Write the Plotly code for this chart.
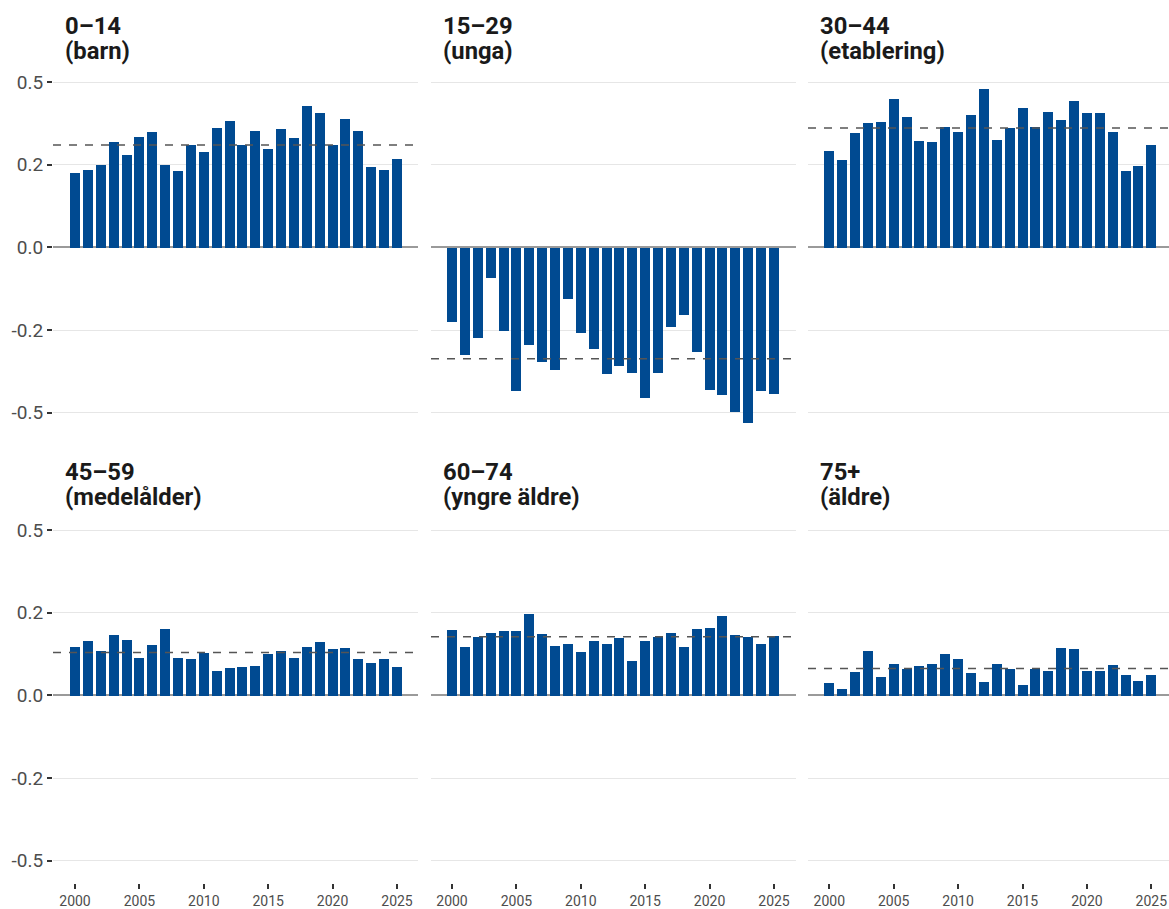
import plotly.graph_objects as go

# ---------------- data ----------------
years = list(range(2000, 2026))

title_line1 = ["0–14", "15–29", "30–44", "45–59", "60–74", "75+"]
title_line2 = ["(barn)", "(unga)", "(etablering)", "(medelålder)", "(yngre äldre)", "(äldre)"]

v_0_14 = [0.203, 0.211, 0.225, 0.287, 0.252, 0.301, 0.314, 0.225, 0.208, 0.279,
          0.260, 0.325, 0.344, 0.279, 0.317, 0.268, 0.323, 0.298, 0.385, 0.366,
          0.279, 0.350, 0.317, 0.219, 0.211, 0.241]
v_15_29 = [-0.201, -0.291, -0.245, -0.082, -0.226, -0.391, -0.266, -0.310, -0.332, -0.141,
           -0.231, -0.277, -0.345, -0.323, -0.342, -0.408, -0.342, -0.215, -0.182, -0.283,
           -0.386, -0.402, -0.448, -0.476, -0.389, -0.399]
v_30_44 = [0.263, 0.238, 0.312, 0.339, 0.342, 0.404, 0.355, 0.290, 0.287, 0.328,
           0.314, 0.361, 0.431, 0.293, 0.325, 0.380, 0.328, 0.369, 0.347, 0.399,
           0.366, 0.366, 0.314, 0.208, 0.222, 0.279]
v_45_59 = [0.133, 0.149, 0.122, 0.166, 0.152, 0.103, 0.139, 0.182, 0.103, 0.101,
           0.117, 0.068, 0.076, 0.079, 0.082, 0.114, 0.122, 0.103, 0.133, 0.147,
           0.128, 0.130, 0.101, 0.090, 0.101, 0.079]
v_60_74 = [0.179, 0.133, 0.160, 0.171, 0.177, 0.177, 0.223, 0.168, 0.136, 0.141,
           0.120, 0.149, 0.141, 0.158, 0.095, 0.149, 0.160, 0.171, 0.133, 0.182,
           0.185, 0.217, 0.166, 0.160, 0.141, 0.163]
v_75 = [0.035, 0.019, 0.065, 0.122, 0.052, 0.087, 0.073, 0.082, 0.087, 0.114,
        0.101, 0.063, 0.038, 0.087, 0.073, 0.030, 0.073, 0.068, 0.130, 0.128,
        0.068, 0.068, 0.084, 0.057, 0.041, 0.057]

series = [v_0_14, v_15_29, v_30_44, v_45_59, v_60_74, v_75]
means = [0.279, -0.303, 0.325, 0.117, 0.160, 0.073]

y_tickvals = [-0.45, -0.225, 0.0, 0.225, 0.45]
y_ticktext = ["-0.5", "-0.2", "0.0", "0.2", "0.5"]
x_tickvals = [2000, 2005, 2010, 2015, 2020, 2025]

# ---------------- layout geometry (pixels) ----------------
W, H = 1169, 909
cols_px = [(53, 418, 75.0), (431, 796, 452.0), (808, 1169, 829.3)]
rows_px = [(64.0, 433.0), (514.0, 883.0)]
title_mid_px = [(25.8, 50.8), (474.0, 499.0)]
px_per_year = 12.88
BAR = "#004A91"
FONT = "Roboto, Arial, sans-serif"

fig = go.Figure()
layout = dict(
    width=W, height=H,
    margin=dict(l=0, r=0, t=0, b=0),
    paper_bgcolor="white", plot_bgcolor="white",
    showlegend=False, bargap=0,
    font=dict(family=FONT),
    annotations=[], shapes=[],
)

for i in range(6):
    r, c = divmod(i, 3)
    n = i + 1
    xa = "x" if n == 1 else f"x{n}"
    ya = "y" if n == 1 else f"y{n}"
    left, right, p2000 = cols_px[c]
    top, bottom = rows_px[r]
    xrange = [2000 - (p2000 - left) / px_per_year, 2000 + (right - p2000) / px_per_year]

    fig.add_trace(go.Bar(x=years, y=series[i], width=0.777, marker_color=BAR,
                         marker_line_width=0, xaxis=xa, yaxis=ya))

    xkey = "xaxis" if n == 1 else f"xaxis{n}"
    ykey = "yaxis" if n == 1 else f"yaxis{n}"
    xdict = dict(domain=[left / W, right / W], range=xrange, showgrid=False,
                 zeroline=False, showline=False, fixedrange=True)
    if r == 1:
        xdict.update(anchor="free", position=1 - 887 / H, tickvals=x_tickvals,
                     ticks="outside", ticklen=5, tickwidth=1.5, tickcolor="#333333",
                     tickfont=dict(size=14, color="#4d4d4d"), showticklabels=True)
    else:
        xdict.update(anchor=ya, showticklabels=False, ticks="")
    layout[xkey] = xdict

    ydict = dict(domain=[1 - bottom / H, 1 - top / H], range=[-0.5, 0.5], anchor=xa,
                 tickvals=y_tickvals, ticktext=y_ticktext,
                 showgrid=True, gridcolor="#e6e6e6", gridwidth=1,
                 zeroline=True, zerolinecolor="#9a9a9a", zerolinewidth=1.5,
                 showline=False, fixedrange=True, automargin=False)
    if c == 0:
        ydict.update(ticks="outside", ticklen=5, tickwidth=1.5, tickcolor="#333333",
                     tickfont=dict(size=19, color="#4d4d4d"), showticklabels=True)
    else:
        ydict.update(ticks="", showticklabels=False)
    layout[ykey] = ydict

    layout["shapes"].append(dict(type="line", xref=f"{xa} domain", yref=ya,
                                 x0=0, x1=1, y0=means[i], y1=means[i],
                                 line=dict(color="#555555", width=1.5, dash="8px,8px")))

    for txt, ymid in ((title_line1[i], title_mid_px[r][0]), (title_line2[i], title_mid_px[r][1])):
        layout["annotations"].append(dict(
            text="<b>" + txt + "</b>", xref="paper", yref="paper",
            x=(left + 10) / W, y=1 - ymid / H, xanchor="left", yanchor="middle",
            align="left", showarrow=False,
            font=dict(size=23.8, color="#1a1a1a", family=FONT)))

fig.update_layout(**layout)
fig.write_html("out.html", config={"displayModeBar": False},
               post_script="document.body.style.margin='0';document.body.style.overflow='hidden';")
